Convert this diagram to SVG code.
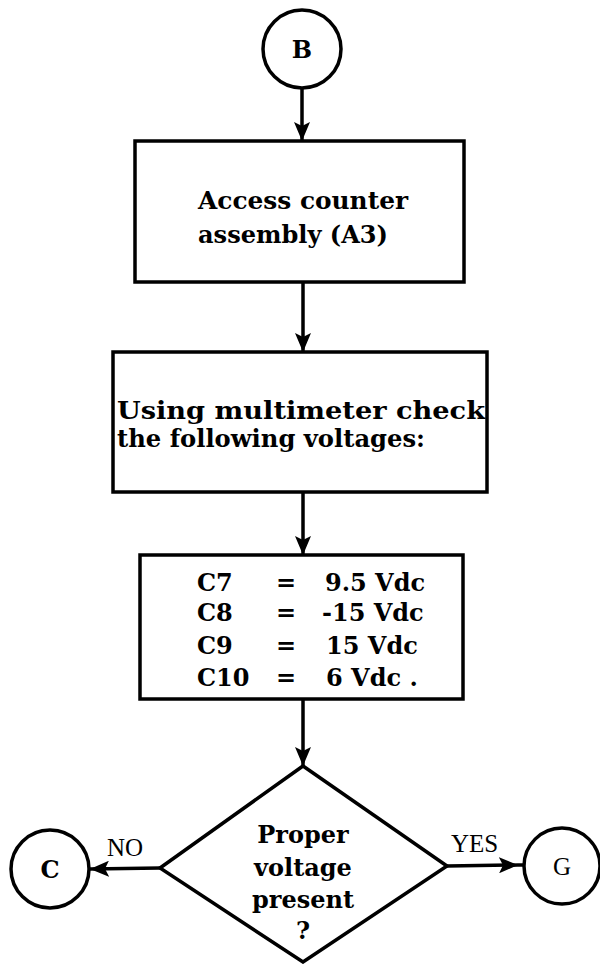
<svg xmlns="http://www.w3.org/2000/svg" width="600" height="964" viewBox="0 0 600 964">
<style>
.shape{fill:#fff;stroke:#000;stroke-width:3.5}
.conn{stroke:#000;stroke-width:3.5;fill:none}
.t{font-family:"DejaVu Serif","Liberation Serif",serif;font-weight:bold;font-size:24px;fill:#000}
.d{font-family:"DejaVu Serif","Liberation Serif",serif;font-weight:bold;font-size:24px;fill:#000;text-anchor:middle}
.lab{font-family:"Liberation Serif","DejaVu Serif",serif;font-size:25px;fill:#000}
</style>
<defs>
<marker id="ah" markerUnits="userSpaceOnUse" markerWidth="20" markerHeight="16" refX="19" refY="8" orient="auto">
<path d="M0,0 L19,8 L0,16 L4,8 z" fill="#000"/>
</marker>
</defs>
<rect width="600" height="964" fill="#fff"/>
<g id="connectors">
<line class="conn" x1="302" y1="88" x2="302" y2="141" marker-end="url(#ah)"/>
<line class="conn" x1="303" y1="282" x2="303" y2="352" marker-end="url(#ah)"/>
<line class="conn" x1="303" y1="492" x2="303" y2="555" marker-end="url(#ah)"/>
<line class="conn" x1="303" y1="699" x2="303" y2="766" marker-end="url(#ah)"/>
<line class="conn" x1="160" y1="868" x2="90" y2="869" marker-end="url(#ah)"/>
<line class="conn" x1="447" y1="866" x2="518" y2="865" marker-end="url(#ah)"/>
<line class="conn" x1="518" y1="865" x2="524" y2="865" stroke-width="2"/>
</g>
<g id="nodeB">
<circle class="shape" cx="302" cy="49" r="39"/>
<text class="d" x="302" y="58" font-size="25">B</text>
</g>
<g id="access">
<rect class="shape" x="135" y="141" width="329" height="141"/>
<text class="t" x="198" y="209" textLength="210" lengthAdjust="spacingAndGlyphs">Access counter</text>
<text class="t" x="198" y="243" textLength="190" lengthAdjust="spacingAndGlyphs">assembly (A3)</text>
</g>
<g id="using">
<rect class="shape" x="113" y="352" width="374" height="140"/>
<text class="t" x="117" y="419" textLength="368" lengthAdjust="spacingAndGlyphs">Using multimeter check</text>
<text class="t" x="117" y="447" textLength="308" lengthAdjust="spacingAndGlyphs">the following voltages:</text>
</g>
<g id="voltages">
<rect class="shape" x="140" y="555" width="323" height="144"/>
<text class="t" x="197" y="591">C7</text><text class="t" x="276" y="591">=</text><text class="t" x="325" y="591">9.5 Vdc</text>
<text class="t" x="197" y="621">C8</text><text class="t" x="276" y="621">=</text><text class="t" x="322" y="621">-15 Vdc</text>
<text class="t" x="197" y="654">C9</text><text class="t" x="276" y="654">=</text><text class="t" x="326" y="654">15 Vdc</text>
<text class="t" x="197" y="686">C10</text><text class="t" x="276" y="686">=</text><text class="t" x="326" y="686">6 Vdc .</text>
</g>
<g id="decision">
<polygon class="shape" points="303,766 447,866 303,962 160,868"/>
<text class="d" x="303" y="843">Proper</text>
<text class="d" x="303" y="876">voltage</text>
<text class="d" x="303" y="908">present</text>
<text class="d" x="303" y="939" font-size="20">?</text>
</g>
<g id="nodeC">
<circle class="shape" cx="50" cy="869" r="39"/>
<text class="d" x="50" y="878" font-size="25">C</text>
</g>
<g id="nodeG">
<circle class="shape" cx="562" cy="866" r="38"/>
<text class="lab" x="562" y="875" text-anchor="middle" font-size="26">G</text>
</g>
<g id="labels">
<text class="lab" x="107" y="856">NO</text>
<text class="lab" x="451" y="852">YES</text>
</g>
</svg>
